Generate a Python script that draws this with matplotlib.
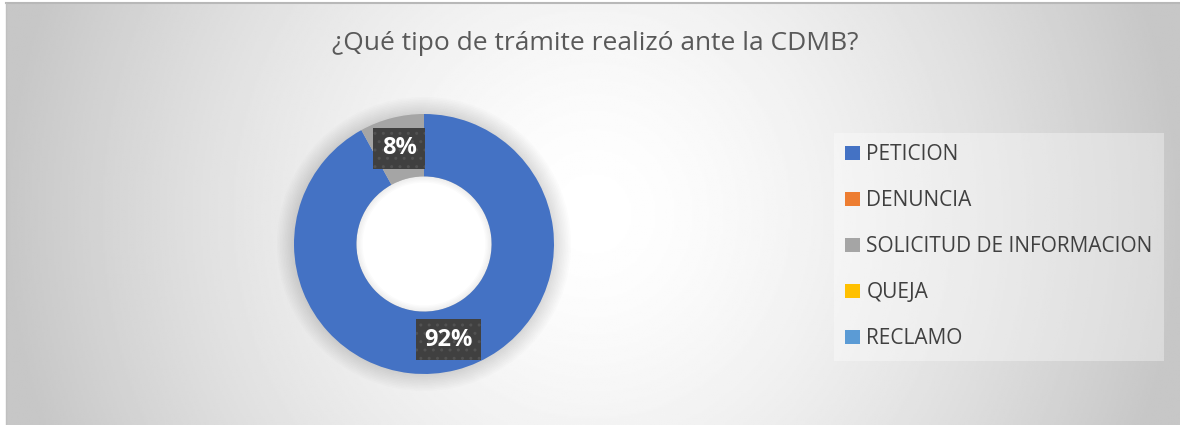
import numpy as np
import matplotlib
matplotlib.use("Agg")
import matplotlib.pyplot as plt

plt.rcParams['font.family'] = ['Open Sans', 'DejaVu Sans']

title = "¿Qué tipo de trámite realizó ante la CDMB?"
categories = ["PETICION", "DENUNCIA", "SOLICITUD DE INFORMACION", "QUEJA", "RECLAMO"]
values = [92, 0, 8, 0, 0]
colors = ["#4472C4", "#ED7D31", "#A5A5A5", "#FFC000", "#5B9BD5"]

W, H = 1180, 425
fig = plt.figure(figsize=(W / 100, H / 100), dpi=100)

# background with soft radial-ish gradient
bg = fig.add_axes([6 / W, 0, 1 - 6 / W, 422 / H])
gx, gy = np.meshgrid(np.linspace(-1, 1, 600), np.linspace(-1, 1, 220))
d = np.clip(np.sqrt(gx ** 2 + 0.12 * gy ** 2), 0, 1)
shade = 1 - 0.22 * d ** 1.5
bg.imshow(shade, cmap="gray", vmin=0, vmax=1, aspect="auto", extent=[0, 1, 0, 1])
bg.set_xlim(0, 1)
bg.set_ylim(0, 1)
bg.axis("off")
bg.plot([0, 1], [1, 1], color="#b8b8b8", lw=1.5, clip_on=False)
bg.plot([0, 0], [0, 1], color="#c0c0c0", lw=1, clip_on=False)

fig.text(595 / W, 1 - 44 / H, title, ha="center", va="center",
         fontsize=19, color="#595959")

# donut
cx, cy, r = 424, 425 - 244, 130
ax = fig.add_axes([(cx - r) / W, (cy - r) / H, 2 * r / W, 2 * r / H])
ax.patch.set_alpha(0)

# soft shadow halo
for i in range(12):
    ax.add_patch(plt.Circle((0, 0), 1.0 + 0.012 * i, color="#000000",
                            alpha=0.011, lw=0, clip_on=False, zorder=0.1))

wedges, _ = ax.pie(values, colors=colors, startangle=90, counterclock=False,
                   radius=1, wedgeprops=dict(width=0.48, linewidth=0))
for w in wedges:
    w.set_clip_on(False)
ax.add_patch(plt.Circle((0, 0), 0.52, color="white", lw=0, zorder=0.5))
for i in range(5):
    ax.add_patch(plt.Circle((0, 0), 0.52, fill=False, ec="#000000",
                            lw=1 + 2 * i, alpha=0.015, zorder=0.6))
ax.set_xlim(-1, 1)
ax.set_ylim(-1, 1)

total = sum(values)
angle = 90.0
for v in values:
    if v > 0:
        mid = np.deg2rad(angle - 360 * v / total / 2)
        ax.text(0.76 * np.cos(mid), 0.76 * np.sin(mid), f"{v / total:.0%}",
                ha="center", va="center", fontsize=17, fontweight="bold",
                color="white", zorder=5,
                bbox=dict(boxstyle="square,pad=0.36", fc="#404040",
                          ec="#525252", lw=0, hatch=".."))
    angle -= 360 * v / total

leg = fig.legend(wedges, categories, loc="upper left",
                 bbox_to_anchor=(834 / W, 1 - 133 / H),
                 frameon=True, fancybox=False, fontsize=15,
                 handlelength=0.7, handleheight=0.7, handletextpad=0.3,
                 labelspacing=1.2, borderpad=0.55, borderaxespad=0)
leg.get_frame().set_facecolor("white")
leg.get_frame().set_alpha(0.35)
leg.get_frame().set_linewidth(0)
for t in leg.get_texts():
    t.set_color("#404040")

fig.savefig("out.png", dpi=100)
